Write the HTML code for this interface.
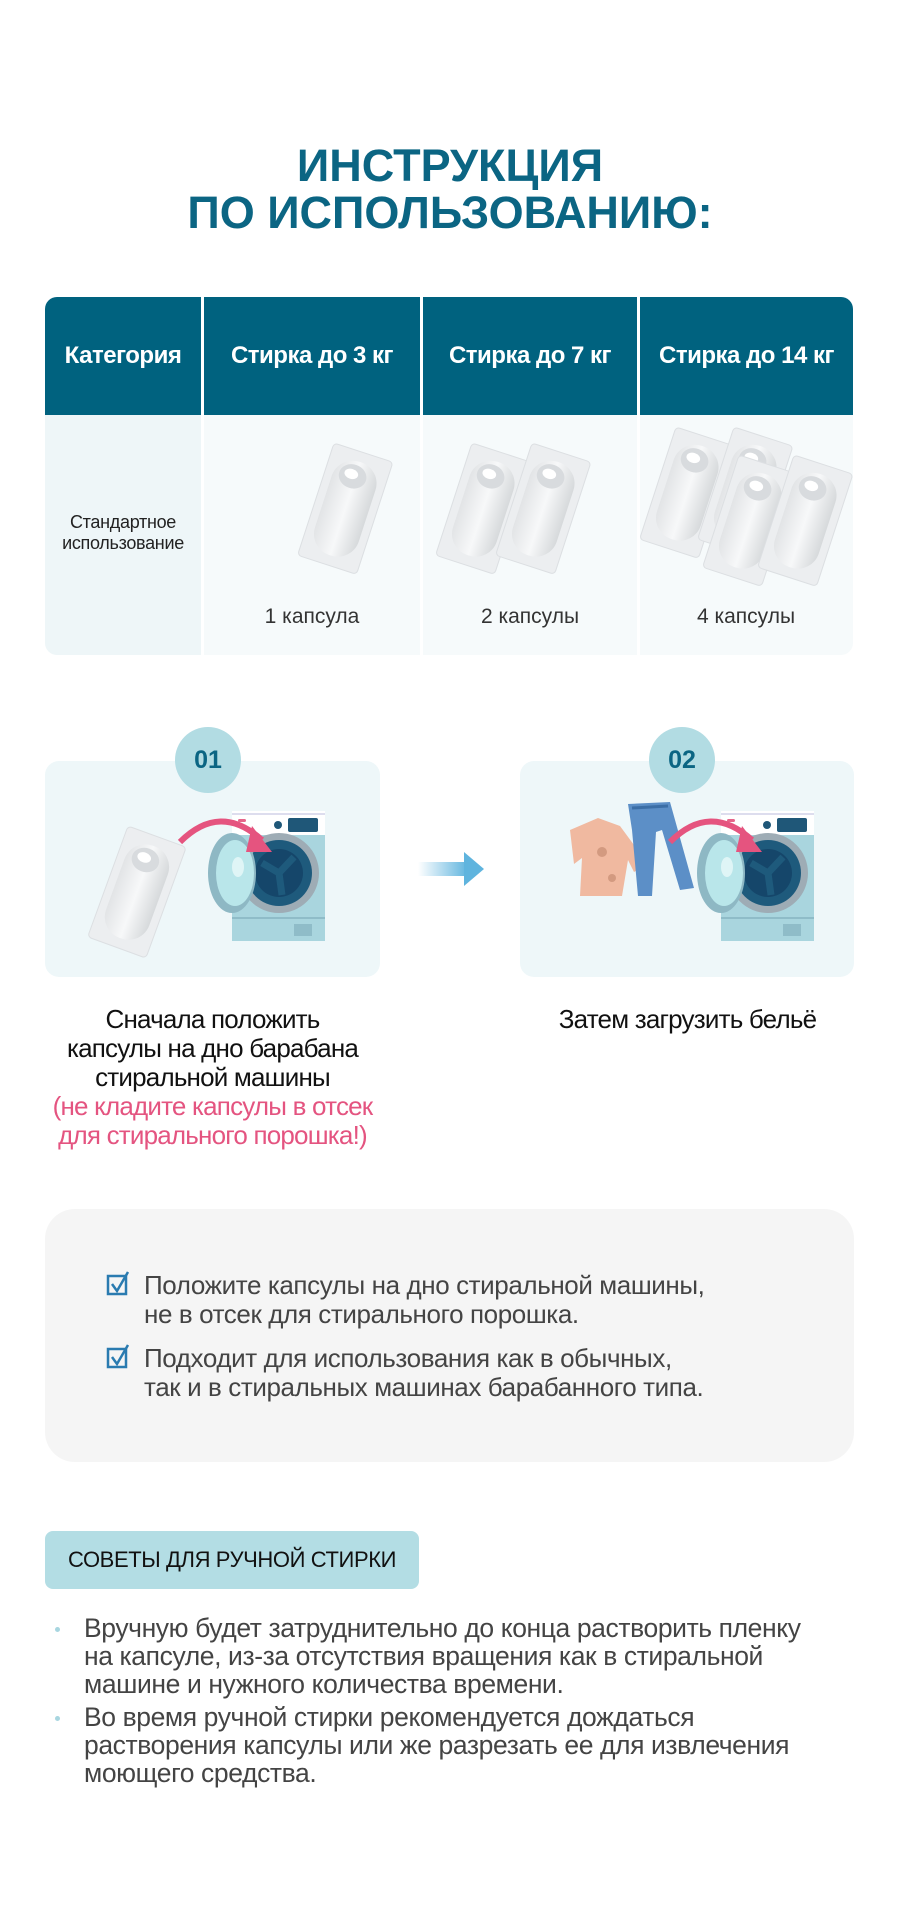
<!DOCTYPE html>
<html><head><meta charset="utf-8"><style>
*{margin:0;padding:0;box-sizing:border-box}
body{width:900px;height:1916px;background:#fff;position:relative;font-family:"Liberation Sans",sans-serif;overflow:hidden}
.a{position:absolute}
.title{left:0;width:900px;text-align:center;color:#0b6583;font-weight:bold;font-size:45px;line-height:47px;top:142px}
.hd{top:297px;height:118px;background:#00627f;color:#fff;font-weight:bold;font-size:24px;letter-spacing:-0.5px;display:flex;align-items:center;justify-content:center;white-space:nowrap}
.bd{top:415px;height:240px;background:#f6fafb}
.lbl{font-size:21px;color:#333;width:200px;text-align:center;top:605px}
.step{background:#eef7f9;border-radius:14px;top:761px;height:216px}
.circ{width:66px;height:66px;border-radius:50%;background:#b2dce3;color:#0b6583;font-weight:bold;font-size:25px;display:flex;align-items:center;justify-content:center;top:727px}
.cap{font-size:26px;line-height:29px;color:#111;text-align:center;letter-spacing:-0.8px;white-space:nowrap}
.t{font-size:26px;color:#444;line-height:29px;white-space:nowrap;letter-spacing:-0.4px}
</style></head><body>
<svg width="0" height="0" style="position:absolute"><defs>
<linearGradient id="cg" x1="0" x2="1"><stop offset="0" stop-color="#e2e4e6"/><stop offset=".5" stop-color="#f7f8f9"/><stop offset="1" stop-color="#d6d9db"/></linearGradient>
<g id="caps"><rect x="0" y="0" width="62" height="118" rx="4" fill="#eceef0" stroke="#dcdfe2"/><rect x="8" y="10" width="46" height="98" rx="22" fill="url(#cg)"/><ellipse cx="28" cy="26" rx="14" ry="12" fill="#d8dbde"/><ellipse cx="26" cy="24" rx="7" ry="5" fill="#fff"/></g>
<g id="wm"><rect x="0" y="0" width="93" height="130" fill="#a9d5de"/><rect x="0" y="0" width="93" height="24" fill="#fff"/><rect x="0" y="2" width="93" height="2" fill="#dde"/><rect x="56" y="7" width="30" height="14" rx="2" fill="#1f5778"/><circle cx="46" cy="14" r="4" fill="#1f5778"/><rect x="6" y="8" width="8" height="3" rx="1.5" fill="#e6658a"/><circle cx="47" cy="62" r="40" fill="#9eacb5"/><circle cx="47" cy="62" r="33" fill="#1e5a7c"/><circle cx="47" cy="62" r="24" fill="#15466a"/><path d="M47 62 L30 52 M47 62 L62 46 M47 62 L50 84" stroke="#1e5a7c" stroke-width="7"/><rect x="0" y="106" width="93" height="2" fill="#8fbcc8"/><rect x="62" y="113" width="18" height="12" fill="#8fbcc8"/><ellipse cx="0" cy="62" rx="24" ry="40" fill="#8eb8c4"/><ellipse cx="3" cy="62" rx="19" ry="33" fill="#b9e6ea"/><ellipse cx="6" cy="56" rx="6" ry="10" fill="#dff5f6"/></g>
</defs></svg>

<div class="a title">ИНСТРУКЦИЯ<br>ПО ИСПОЛЬЗОВАНИЮ:</div>

<div class="a hd" style="left:45px;width:156px;border-top-left-radius:12px">Категория</div>
<div class="a hd" style="left:204px;width:216px">Стирка до 3 кг</div>
<div class="a hd" style="left:423px;width:214px">Стирка до 7 кг</div>
<div class="a hd" style="left:640px;width:213px;border-top-right-radius:12px">Стирка до 14 кг</div>
<div class="a bd" style="left:45px;width:156px;background:#eef6f8;border-bottom-left-radius:12px"></div>
<div class="a bd" style="left:204px;width:216px"></div>
<div class="a bd" style="left:423px;width:214px"></div>
<div class="a bd" style="left:640px;width:213px;border-bottom-right-radius:12px"></div>
<div class="a" style="left:45px;width:156px;top:512px;text-align:center;font-size:18px;line-height:21px;color:#222;letter-spacing:-0.3px">Стандартное<br>использование</div>

<svg class="a" style="left:204px;top:415px" width="649" height="180">
<use href="#caps" transform="translate(130,28) rotate(18)"/>
<use href="#caps" transform="translate(268,28) rotate(18)"/>
<use href="#caps" transform="translate(328,28) rotate(18)"/>
<use href="#caps" transform="translate(472,12) rotate(18)"/>
<use href="#caps" transform="translate(530,12) rotate(18)"/>
<use href="#caps" transform="translate(535,40) rotate(18)"/>
<use href="#caps" transform="translate(590,40) rotate(18)"/>
</svg>
<div class="a lbl" style="left:212px">1 капсула</div>
<div class="a lbl" style="left:430px">2 капсулы</div>
<div class="a lbl" style="left:646px">4 капсулы</div>

<div class="a step" style="left:45px;width:335px"></div>
<div class="a step" style="left:520px;width:334px"></div>
<div class="a circ" style="left:175px">01</div>
<div class="a circ" style="left:649px">02</div>

<svg class="a" style="left:0;top:760px" width="900" height="220">
<use href="#caps" transform="translate(128,66) rotate(20)"/>
<use href="#wm" transform="translate(232,51)"/>
<path d="M180 82 Q220 42 262 80" stroke="#e5547f" stroke-width="6" fill="none"/>
<path d="M252 66 L272 92 L246 92 Z" fill="#e5547f"/>
<defs><linearGradient id="ag"><stop offset="0" stop-color="#5fb4de" stop-opacity="0"/><stop offset="1" stop-color="#5fb4de"/></linearGradient></defs>
<rect x="418" y="102" width="50" height="14" fill="url(#ag)"/>
<path d="M464 92 L484 109 L464 126 Z" fill="#5fb4de"/>
<path d="M570 70 L598 58 L620 66 L648 104 L634 112 L628 100 L622 136 L580 136 L582 98 L574 104 Z" fill="#f0b9a0"/>
<circle cx="602" cy="92" r="5" fill="#d39a80"/><circle cx="612" cy="118" r="4" fill="#d39a80"/>
<path d="M628 44 L670 42 L694 128 L680 130 L662 70 L656 72 L652 136 L638 136 L632 70 Z" fill="#5c8fc7"/>
<path d="M632 48 L668 46" stroke="#3b6ea6" stroke-width="3"/>
<use href="#wm" transform="translate(721,51)"/>
<path d="M670 82 Q710 42 752 80" stroke="#e5547f" stroke-width="6" fill="none"/>
<path d="M742 66 L762 92 L736 92 Z" fill="#e5547f"/>
</svg>

<div class="a cap" style="left:40px;width:345px;top:1005px">Сначала положить<br>капсулы на дно барабана<br>стиральной машины<br><span style="color:#e45480">(не кладите капсулы в отсек<br>для стирального порошка!)</span></div>
<div class="a cap" style="left:515px;width:345px;top:1005px">Затем загрузить бельё</div>

<div class="a" style="left:45px;top:1209px;width:809px;height:253px;background:#f5f5f5;border-radius:30px"></div>
<svg class="a" style="left:106px;top:1270px" width="30" height="110">
<g fill="none" stroke="#2a7bb0" stroke-width="2.5"><rect x="2" y="6" width="18" height="18"/><path d="M6 14 L11 21 L22 2"/>
<rect x="2" y="79" width="18" height="18"/><path d="M6 87 L11 94 L22 75"/></g></svg>
<div class="a t" style="left:144px;top:1271px">Положите капсулы на дно стиральной машины,<br>не в отсек для стирального порошка.</div>
<div class="a t" style="left:144px;top:1344px">Подходит для использования как в обычных,<br>так и в стиральных машинах барабанного типа.</div>

<div class="a" style="left:45px;top:1531px;width:374px;height:58px;background:#b3dde4;border-radius:8px;font-size:22px;color:#111;display:flex;align-items:center;justify-content:center;letter-spacing:-0.4px">СОВЕТЫ ДЛЯ РУЧНОЙ СТИРКИ</div>

<div class="a" style="left:55px;top:1627px;width:5px;height:5px;border-radius:50%;background:#a8d6e0"></div>
<div class="a" style="left:55px;top:1716px;width:5px;height:5px;border-radius:50%;background:#a8d6e0"></div>
<div class="a t" style="left:84px;top:1614px;font-size:26.5px;line-height:28px">Вручную будет затруднительно до конца растворить пленку<br>на капсуле, из-за отсутствия вращения как в стиральной<br>машине и нужного количества времени.</div>
<div class="a t" style="left:84px;top:1703px;font-size:26.5px;line-height:28px">Во время ручной стирки рекомендуется дождаться<br>растворения капсулы или же разрезать ее для извлечения<br>моющего средства.</div>
</body></html>
